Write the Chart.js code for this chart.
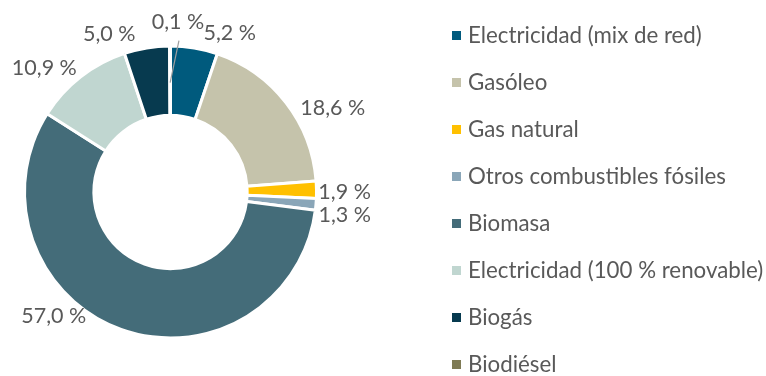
<!DOCTYPE html>
<html lang="es">
<head>
<meta charset="utf-8">
<title>Consumo de energía por fuente</title>
<script src="https://cdn.jsdelivr.net/npm/chart.js@4.4.1/dist/chart.umd.min.js"></script>
<style>
  html, body { margin: 0; padding: 0; background: #ffffff; }
  #wrap { position: relative; width: 766px; height: 376px; }
</style>
</head>
<body>
<div id="wrap"><canvas id="chart" width="766" height="376"></canvas></div>
<script>
// Energy sources and their share of total consumption (%)
const categories = [
  'Electricidad (mix de red)',
  'Gasóleo',
  'Gas natural',
  'Otros combustibles fósiles',
  'Biomasa',
  'Electricidad (100 % renovable)',
  'Biogás',
  'Biodiésel'
];
const shares = [5.2, 18.6, 1.9, 1.3, 57.0, 10.9, 5.0, 0.1];
const sliceColors = [
  '#005A7D', '#C5C3AB', '#FFC000', '#8AA6B8',
  '#446C79', '#C0D6D0', '#073A4F', '#7F7B55'
];

const FONT = '"Lato", "Open Sans", sans-serif';
const TEXT_COLOR = '#595959';

// Label placement around the ring: [angle clockwise from 12 o'clock in degrees, distance / outer radius]
const labelSpots = [
  [20.4, 1.177], [62.7, 1.264], [90, 1.205], [97.4, 1.216],
  [223.2, 1.18], [314.4, 1.222], [338.8, 1.172], [2.5, 1.18]
];

function pct(v) {
  return v.toFixed(1).replace('.', ',') + ' %';
}

const valueLabels = {
  id: 'valueLabels',
  afterDatasetsDraw(chart) {
    const meta = chart.getDatasetMeta(0);
    const ctx = chart.ctx;
    ctx.save();
    ctx.font = '21.5px ' + FONT;
    ctx.fillStyle = TEXT_COLOR;
    ctx.textAlign = 'center';
    ctx.textBaseline = 'middle';
    meta.data.forEach((arc, i) => {
      const p = arc.getProps(['x', 'y', 'startAngle', 'endAngle', 'innerRadius', 'outerRadius'], true);
      const rVis = p.outerRadius - 1.5;
      const [deg, k] = labelSpots[i];
      const a = (deg - 90) * Math.PI / 180;
      const lx = p.x + Math.cos(a) * rVis * k;
      const ly = p.y + Math.sin(a) * rVis * k;
      // thin slice: leader line from the ring to its label
      if (shares[i] < 0.5) {
        const mid = (p.startAngle + p.endAngle) / 2;
        const r0 = (p.innerRadius + p.outerRadius) / 2 - 2;
        ctx.beginPath();
        ctx.strokeStyle = '#9E9E9E';
        ctx.lineWidth = 1.2;
        ctx.moveTo(p.x + Math.cos(mid) * r0, p.y + Math.sin(mid) * r0);
        ctx.lineTo(lx + 1, ly + 19);
        ctx.stroke();
      }
      ctx.fillText(pct(shares[i]), lx, ly);
    });
    ctx.restore();
  }
};

// Legend drawn as a single column on the right
const sideLegend = {
  id: 'sideLegend',
  afterDraw(chart) {
    const ctx = chart.ctx;
    const labels = chart.data.labels;
    const colors = chart.data.datasets[0].backgroundColor;
    const x0 = 452, y0 = 35.5, step = 47, box = 9;
    ctx.save();
    ctx.font = '22.3px ' + FONT;
    ctx.textAlign = 'left';
    ctx.textBaseline = 'middle';
    labels.forEach((lab, i) => {
      const cy = y0 + i * step;
      ctx.fillStyle = colors[i];
      ctx.fillRect(x0, cy - box / 2, box, box);
      ctx.fillStyle = TEXT_COLOR;
      ctx.fillText(lab, x0 + 16, cy);
    });
    ctx.restore();
  }
};

new Chart(document.getElementById('chart'), {
  type: 'doughnut',
  data: {
    labels: categories,
    datasets: [{
      data: shares,
      backgroundColor: sliceColors,
      borderColor: '#ffffff',
      borderWidth: 3,
      hoverOffset: 0
    }]
  },
  options: {
    responsive: false,
    animation: false,
    cutout: '52.5%',
    rotation: 0,
    layout: { padding: { left: 23, top: 44.5, right: 448, bottom: 36.5 } },
    plugins: {
      legend: { display: false },
      tooltip: { enabled: false }
    }
  },
  plugins: [valueLabels, sideLegend]
});
</script>
</body>
</html>
